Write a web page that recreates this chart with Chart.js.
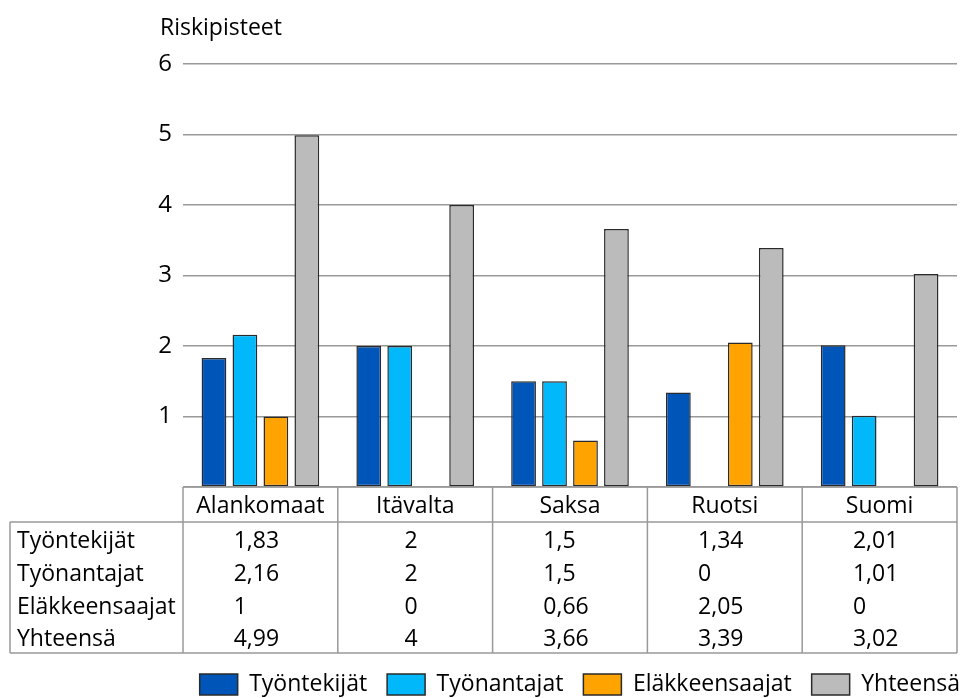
<!DOCTYPE html>
<html>
<head>
<meta charset="utf-8">
<title>Riskipisteet</title>
<script src="https://cdn.jsdelivr.net/npm/chart.js@4/dist/chart.umd.min.js"></script>
<style>
  html, body { margin: 0; padding: 0; background: #fff; }
  #wrap { position: relative; width: 963px; height: 698px; }
</style>
</head>
<body>
<div id="wrap"><canvas id="chart"></canvas></div>
<script>
// Maat (sarakkeet)
const countries = ['Alankomaat', 'Itävalta', 'Saksa', 'Ruotsi', 'Suomi'];

// Sarjojen nimet
const seriesNames = ['Työntekijät', 'Työnantajat', 'Eläkkeensaajat', 'Yhteensä'];

// Riskipisteet sarjoittain
const tyontekijat    = [1.83, 2, 1.5, 1.34, 2.01];
const tyonantajat    = [2.16, 2, 1.5, 0, 1.01];
const elakkeensaajat = [1, 0, 0.66, 2.05, 0];
const yhteensa       = [4.99, 4, 3.66, 3.39, 3.02];

// Y-akselin jaotus
const yTicks = [0, 1, 2, 3, 4, 5, 6];

const seriesValues = [tyontekijat, tyonantajat, elakkeensaajat, yhteensa];
const seriesColors = ['#0055B8', '#00B8FA', '#FFA300', '#BBBBBB'];

const FONT = '"Open Sans", Lato, sans-serif';
const LINE = '#999999';
const TEXT_SIZE = 23;

const fmt = v => String(v).replace('.', ',');

// Tietotaulukko kaavion alle, sarakkeet x-akselin mukaan
const dataTable = {
  id: 'dataTable',
  afterLayout(chart) {
    // legenda oikeaan reunaan
    const lg = chart.legend;
    lg.right = chart.width - 3 + lg.options.labels.padding;
  },
  afterDraw(chart) {
    const ctx = chart.ctx;
    const area = chart.chartArea;
    const xs = chart.scales.x;
    const n = countries.length;
    const colW = (area.right - area.left) / n;
    const top = area.bottom;
    const headH = 35;
    const headBottom = top + headH;
    const bottom = xs.bottom;
    const rowH = (bottom - headBottom) / seriesNames.length;
    const tableLeft = 10;

    ctx.save();
    ctx.strokeStyle = LINE;
    ctx.lineWidth = 1.5;
    ctx.beginPath();
    ctx.moveTo(area.left, top); ctx.lineTo(area.right, top);
    ctx.moveTo(tableLeft, headBottom); ctx.lineTo(area.right, headBottom);
    ctx.moveTo(tableLeft, bottom); ctx.lineTo(area.right, bottom);
    ctx.moveTo(tableLeft, headBottom); ctx.lineTo(tableLeft, bottom);
    for (let i = 0; i <= n; i++) {
      const x = area.left + i * colW;
      ctx.moveTo(x, top); ctx.lineTo(x, bottom);
    }
    ctx.stroke();

    ctx.fillStyle = '#000';
    ctx.font = TEXT_SIZE + 'px ' + FONT;
    ctx.textBaseline = 'alphabetic';

    // otsikkorivi
    ctx.textAlign = 'center';
    countries.forEach((c, i) => {
      ctx.fillText(c, xs.getPixelForValue(i), top + 26);
    });

    // rivien nimet
    ctx.textAlign = 'left';
    seriesNames.forEach((s, r) => {
      ctx.fillText(s, 17, headBottom + r * rowH + 26);
    });

    // arvot: sarakkeen tekstilohko keskitetty, tasaus vasemmalle
    countries.forEach((c, i) => {
      const texts = seriesValues.map(arr => fmt(arr[i]));
      const maxW = Math.max(...texts.map(t => ctx.measureText(t).width));
      const x0 = xs.getPixelForValue(i) - maxW / 2 - 4;
      texts.forEach((t, r) => {
        ctx.fillText(t, x0, headBottom + r * rowH + 26);
      });
    });

    // akselin otsikko
    ctx.fillText('Riskipisteet', 160, 35);
    ctx.restore();
  }
};

new Chart(document.getElementById('chart'), {
  type: 'bar',
  data: {
    labels: countries,
    datasets: seriesNames.map((name, k) => ({
      label: name,
      data: seriesValues[k],
      backgroundColor: seriesColors[k],
      borderColor: '#2a2a2a',
      borderWidth: c => (c.raw === 0 ? 0 : 1.5),
      borderSkipped: false,
      categoryPercentage: 0.8,
      barPercentage: 0.8
    }))
  },
  options: {
    responsive: true,
    maintainAspectRatio: false,
    animation: false,
    layout: { padding: { top: 64, right: 6, bottom: 0, left: 0 } },
    plugins: {
      title: { display: false },
      tooltip: { enabled: false },
      legend: {
        position: 'bottom',
        align: 'end',
        maxHeight: 45,
        labels: {
          boxWidth: 38,
          boxHeight: 21,
          padding: 20,
          color: '#000',
          font: { family: FONT, size: TEXT_SIZE }
        }
      }
    },
    scales: {
      x: {
        grid: { display: false },
        border: { display: false },
        ticks: { display: false },
        afterFit: s => { s.height = 166; }
      },
      y: {
        min: yTicks[0],
        max: yTicks[yTicks.length - 1],
        afterBuildTicks: s => { s.ticks = yTicks.map(v => ({ value: v })); },
        afterFit: s => { s.width = 183; },
        border: { display: false },
        grid: { color: LINE, lineWidth: 1.5, drawTicks: false },
        ticks: {
          padding: 11,
          color: '#000',
          font: { family: FONT, size: 24 },
          callback: v => (v === 0 ? '' : String(v))
        }
      }
    }
  },
  plugins: [dataTable]
});
</script>
</body>
</html>
